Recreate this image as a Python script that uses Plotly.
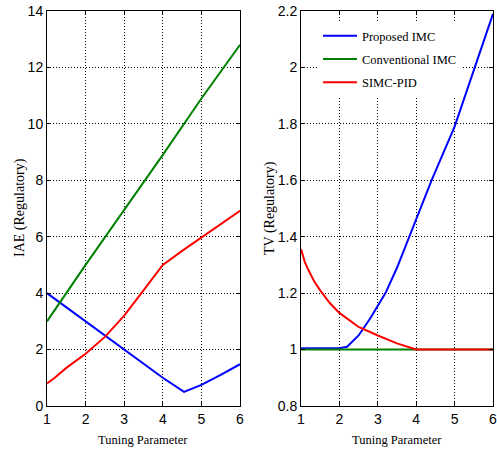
import plotly.graph_objects as go

# Left panel: IAE (Regulatory)
iae_x_prop = [1, 2, 3, 4, 4.55, 5, 5.5, 6]
iae_prop = [4.0, 3.0, 2.0, 1.0, 0.5, 0.75, 1.1, 1.48]
iae_x_conv = [1, 2, 3, 4, 5, 6]
iae_conv = [3.0, 5.0, 6.95, 8.9, 10.9, 12.8]
iae_x_simc = [1, 1.2, 1.5, 2, 2.5, 3, 3.5, 4, 4.5, 5, 5.5, 6]
iae_simc = [0.8, 1.0, 1.35, 1.85, 2.45, 3.2, 4.1, 5.0, 5.5, 5.98, 6.45, 6.92]

# Right panel: TV (Regulatory)
tv_x_prop = [1, 1.5, 2.0, 2.2, 2.5, 2.8, 3.0, 3.2, 3.5, 4.0, 4.4, 5.0, 5.5, 6.0]
tv_prop = [1.005, 1.005, 1.005, 1.01, 1.05, 1.11, 1.155, 1.2, 1.29, 1.46, 1.6, 1.79, 1.99, 2.19]
tv_x_conv = [1, 2, 3, 4, 5, 6]
tv_conv = [1.0, 1.0, 1.0, 1.0, 1.0, 1.0]
tv_x_simc = [1, 1.05, 1.1, 1.2, 1.35, 1.5, 1.75, 2, 2.5, 3, 3.5, 4, 5, 6]
tv_simc = [1.356, 1.33, 1.31, 1.28, 1.24, 1.21, 1.165, 1.13, 1.08, 1.05, 1.022, 1.0, 1.0, 1.0]

names = ["Proposed IMC", "Conventional IMC", "SIMC-PID"]
colors = ["#0000ff", "#008000", "#ff0000"]

fig = go.Figure()
left = [(iae_x_prop, iae_prop), (iae_x_conv, iae_conv), (iae_x_simc, iae_simc)]
right = [(tv_x_prop, tv_prop), (tv_x_conv, tv_conv), (tv_x_simc, tv_simc)]
for i, (xs, ys) in enumerate(left):
    fig.add_trace(go.Scatter(x=xs, y=ys, mode="lines", name=names[i],
                             line=dict(color=colors[i], width=2),
                             xaxis="x", yaxis="y", showlegend=False))
for i, (xs, ys) in enumerate(right):
    fig.add_trace(go.Scatter(x=xs, y=ys, mode="lines", name=names[i],
                             legendgroup=f"g{i}",
                             line=dict(color=colors[i], width=2),
                             xaxis="x2", yaxis="y2", showlegend=True))

W, H = 497, 453
tickfont = dict(family="Liberation Sans Narrow, Arial Narrow, Liberation Sans, Arial", size=14, color="black")
titlefont = dict(family="Liberation Serif, Times New Roman, serif", size=14, color="black")
xtitlefont = dict(family="Liberation Serif, Times New Roman, serif", size=12.5, color="black")
ydom = [(H - 406) / H, (H - 11) / H]

axcommon = dict(showline=True, linecolor="black", linewidth=1, mirror="ticks",
                ticks="inside", ticklen=4, tickcolor="black",
                showgrid=True, gridcolor="black", griddash="1px,2px", gridwidth=1,
                zeroline=False, tickfont=tickfont, automargin=False,
                ticklabeloverflow="allow")

fig.update_layout(
    template="none",
    width=W, height=H,
    margin=dict(l=0, r=0, t=0, b=0),
    paper_bgcolor="white", plot_bgcolor="white",
    xaxis=dict(domain=[47 / W, 240 / W], range=[1, 6], tickvals=[1, 2, 3, 4, 5, 6],
               anchor="y", **axcommon),
    yaxis=dict(domain=ydom, range=[0, 14], tickvals=list(range(0, 15, 2)),
               anchor="x", **axcommon),
    xaxis2=dict(domain=[301 / W, 493 / W], range=[1, 6], tickvals=[1, 2, 3, 4, 5, 6],
                anchor="y2", **axcommon),
    yaxis2=dict(domain=ydom, range=[0.8, 2.2],
                tickvals=[0.8, 1.0, 1.2, 1.4, 1.6, 1.8, 2.0, 2.2],
                ticktext=["0.8", "1", "1.2", "1.4", "1.6", "1.8", "2", "2.2"],
                anchor="x2", **axcommon),
    legend=dict(x=318 / W, y=(H - 21) / H,
                xanchor="left", yanchor="top",
                bgcolor="white", borderwidth=0,
                font=dict(family="Liberation Serif, Times New Roman, serif", size=12.5, color="black"),
                tracegroupgap=4, itemwidth=34),
    annotations=[
        dict(text="Tuning Parameter", x=143 / W, y=(H - 440) / H, xref="paper", yref="paper",
             showarrow=False, font=xtitlefont, xanchor="center", yanchor="middle"),
        dict(text="Tuning Parameter", x=397 / W, y=(H - 440) / H, xref="paper", yref="paper",
             showarrow=False, font=xtitlefont, xanchor="center", yanchor="middle"),
        dict(text="IAE (Regulatory)", x=20 / W, y=(H - 208) / H, xref="paper", yref="paper",
             showarrow=False, font=titlefont, textangle=-90, xanchor="center", yanchor="middle"),
        dict(text="TV (Regulatory)", x=270 / W, y=(H - 208) / H, xref="paper", yref="paper",
             showarrow=False, font=titlefont, textangle=-90, xanchor="center", yanchor="middle"),
    ],
)

fig.write_html("out.html")
